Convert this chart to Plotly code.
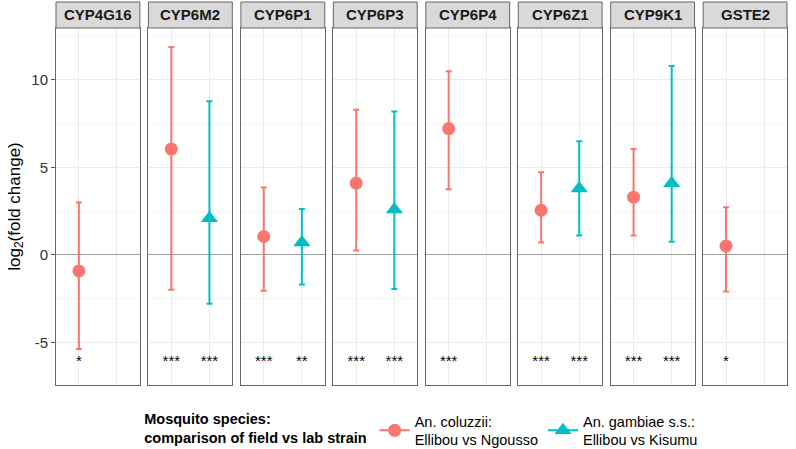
import plotly.graph_objects as go
from plotly.subplots import make_subplots

genes = ["CYP4G16", "CYP6M2", "CYP6P1", "CYP6P3", "CYP6P4", "CYP6Z1", "CYP9K1", "GSTE2"]
species = ["An. coluzzii:<br>Ellibou vs Ngousso", "An. gambiae s.s.:<br>Ellibou vs Kisumu"]

# An. coluzzii (None = not measured)
col_fc = [-0.92, 6.05, 1.05, 4.1, 7.22, 2.55, 3.3, 0.5]
col_lo = [-5.38, -2.0, -2.05, 0.25, 3.75, 0.7, 1.1, -2.1]
col_hi = [3.0, 11.88, 3.85, 8.3, 10.5, 4.72, 6.05, 2.72]
col_sig = ["*", "***", "***", "***", "***", "***", "***", "*"]

# An. gambiae s.s.
gam_fc = [None, 2.1, 0.7, 2.6, None, 3.8, 4.1, None]
gam_lo = [None, -2.8, -1.7, -1.95, None, 1.1, 0.75, None]
gam_hi = [None, 8.78, 2.62, 8.2, None, 6.5, 10.8, None]
gam_sig = ["", "***", "**", "***", "", "***", "***", ""]

sig_y = -6.15
y_ticks = [-5, 0, 5, 10]
y_tick_labels = ["-5", "0", "5", "10"]

colors = ["#F8766D", "#00BFC4"]
symbols = ["circle", "triangle-up"]
sizes = [13, 15]
font = "Liberation Sans, Arial, sans-serif"

W, H = 796, 449
ml, mr, mt, mb = 56, 9, 28, 64
plot_h = H - mt - mb
plot_w = W - ml - mr
gap = 8.6

fig = make_subplots(rows=1, cols=len(genes), shared_yaxes=True,
                    horizontal_spacing=gap / plot_w)

series = [(col_fc, col_lo, col_hi, col_sig), (gam_fc, gam_lo, gam_hi, gam_sig)]

for i, g in enumerate(genes):
    c = i + 1
    for s, (fc, lo, hi, sig) in enumerate(series):
        if fc[i] is None:
            continue
        xpos = s + 1
        fig.add_trace(go.Scatter(
            x=[xpos], y=[fc[i]], mode="markers",
            marker=dict(color=colors[s], symbol=symbols[s], size=sizes[s]),
            error_y=dict(type="data", symmetric=False,
                         array=[hi[i] - fc[i]], arrayminus=[fc[i] - lo[i]],
                         color=colors[s], thickness=2, width=3),
            showlegend=False, hoverinfo="skip"), row=1, col=c)
        if sig[i]:
            fig.add_trace(go.Scatter(
                x=[xpos], y=[sig_y], mode="text", text=[sig[i]],
                textfont=dict(size=15, color="black", family=font),
                showlegend=False, hoverinfo="skip"), row=1, col=c)
    # strip
    xr = "x domain" if c == 1 else f"x{c} domain"
    fig.add_shape(type="rect", xref=xr, yref="paper", x0=0, x1=1,
                  y0=1.0, y1=1 + 26 / plot_h,
                  fillcolor="#D9D9D9", line=dict(color="#666666", width=1), layer="above")
    fig.add_annotation(xref=xr, yref="paper", x=0.5, y=1 + 13 / plot_h,
                       text=f"<b>{g}</b>", showarrow=False,
                       font=dict(size=15, color="#1a1a1a", family=font),
                       xanchor="center", yanchor="middle")

# legend entries
for s in range(2):
    fig.add_trace(go.Scatter(
        x=[None], y=[None], mode="lines+markers", name=species[s],
        marker=dict(color=colors[s], symbol=symbols[s], size=sizes[s]),
        line=dict(color=colors[s], width=2)))

fig.update_xaxes(range=[0.4, 2.6], tickvals=[1, 2], showticklabels=False, ticks="",
                 showgrid=True, gridcolor="#EBEBEB", gridwidth=1,
                 showline=True, mirror=True, linecolor="#666666", linewidth=1,
                 zeroline=False, automargin=False)
fig.update_yaxes(range=[-7.44, 12.97], tickvals=y_ticks, ticktext=y_tick_labels,
                 showgrid=True, gridcolor="#EBEBEB", gridwidth=1,
                 minor=dict(dtick=2.5, tick0=0, showgrid=True, gridcolor="#F5F5F5", gridwidth=0.7),
                 showline=True, mirror=True, linecolor="#666666", linewidth=1,
                 zeroline=True, zerolinecolor="#A0A0A0", zerolinewidth=1, automargin=False)
fig.update_yaxes(ticks="outside", ticklen=4, tickcolor="#555555",
                 tickfont=dict(size=15, color="#333333", family=font), row=1, col=1)
fig.update_yaxes(title=dict(text="log<sub>2</sub>(fold change)",
                            font=dict(size=17, color="black", family=font), standoff=6),
                 row=1, col=1)

fig.update_layout(
    width=W, height=H,
    margin=dict(l=ml, r=mr, t=mt, b=mb, autoexpand=False),
    plot_bgcolor="white", paper_bgcolor="white",
    font=dict(family=font, size=15, color="black"),
    legend=dict(orientation="h", x=0.118, xanchor="left", y=-0.056, yanchor="top",
                title=dict(text="<b>Mosquito species:<br>comparison of field vs lab strain</b>",
                           side="left", font=dict(size=14.5)),
                font=dict(size=14.5), itemwidth=30, tracegroupgap=0),
)

fig.write_html("out.html", config={"displayModeBar": False},
               post_script="document.body.style.margin='0';document.body.style.overflow='hidden';")
